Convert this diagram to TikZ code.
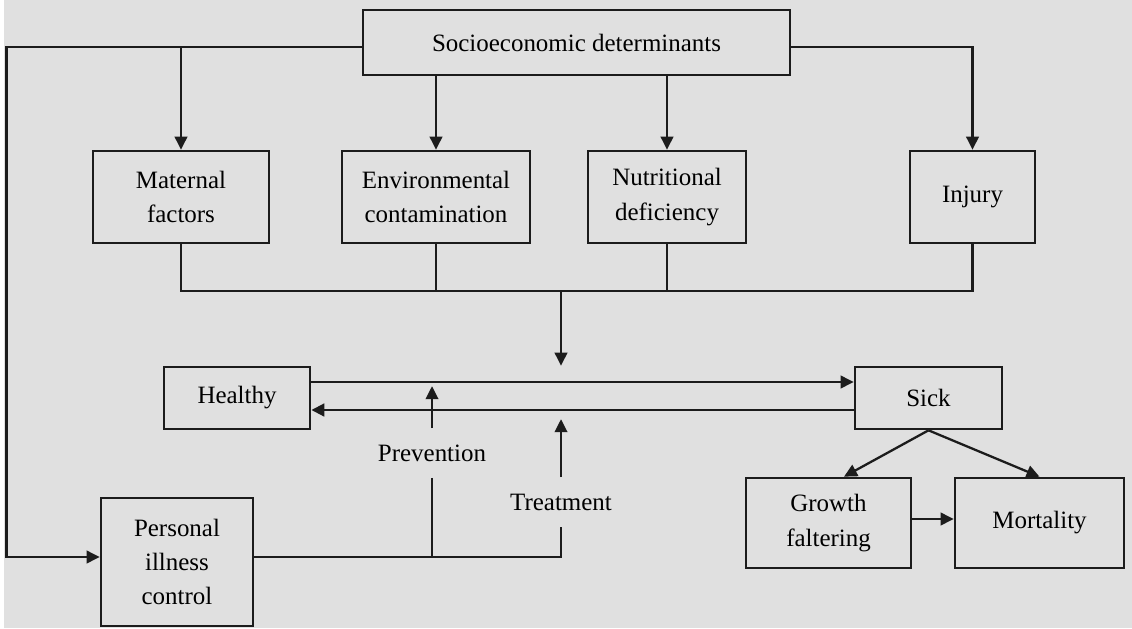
\documentclass[tikz,border=0pt]{standalone}
\usepackage{fontspec}
\setmainfont{Liberation Serif}
\usetikzlibrary{shapes.geometric, arrows.meta}
\definecolor{bggray}{HTML}{E0E0E0}
\definecolor{edgegray}{HTML}{1C1C1C}
\tikzstyle{factor} = [rectangle, minimum width=3cm, minimum height=1.84cm, text centered, align=center, draw=edgegray, line width=1.5pt]
\tikzstyle{state} = [rectangle, minimum width=2.9cm, minimum height=1.24cm, text centered, align=center, draw=edgegray, line width=1.5pt]
\tikzstyle{actionlabel} = [inner sep=0pt, minimum height=0.98cm, text centered]
\tikzstyle{line} = [line width=1.3pt, draw=edgegray]
\tikzstyle{arrow} = [line width=1.3pt, draw=edgegray, -{Triangle[length=0.26cm,width=0.25cm]}]

\begin{document}
\begin{tikzpicture}[node distance=3.09cm, font=\fontsize{14.2}{19.5}\selectfont]

        % Background and page size
        \useasboundingbox (0,0) rectangle (22.64,-12.56);
        \fill [bggray] (0.08,0) rectangle (22.64,-12.56);

        % Nodes for determinants and factors
        \node (socio) [factor, minimum width=8.54cm, minimum height=1.3cm] at (11.53,-0.85) {Socioeconomic determinants};
        \node (maternal) [factor, minimum width=3.52cm, below of=socio, xshift=-7.91cm] {Maternal\\factors};
        \node (environment) [factor, minimum width=3.76cm, below of=socio, xshift=-2.81cm] {Environmental\\contamination};
        \node (nutrition) [factor, minimum width=3.16cm, below of=socio, xshift=1.81cm] {Nutritional\\deficiency};
        \node (injury) [factor, minimum width=2.5cm, below of=socio, xshift=7.92cm] {Injury};

        % Nodes for health states
        \node (healthy) [state, minimum width=2.92cm, below of=maternal, xshift=1.12cm, yshift=-0.93cm] {Healthy};
        \node (sick) [state, minimum width=2.94cm, right of=healthy, xshift=10.74cm] {Sick};

        % Nodes for outcomes
        \node (growth) [factor, minimum width=3.3cm, minimum height=1.8cm, below of=sick, xshift=-2cm, yshift=0.59cm] {Growth\\faltering};
        \node (mortality) [factor, minimum width=3.38cm, minimum height=1.8cm, right of=growth, xshift=1.13cm] {Mortality};

        % Node for personal control and its actions
        \node (personal) [factor, minimum width=3.04cm, minimum height=2.56cm, below of=healthy, xshift=-1.2cm, yshift=-0.19cm] {Personal\\illness\\control};
        \node (prevention) [actionlabel, right of=healthy, xshift=0.81cm, yshift=-1.1cm] {Prevention};
        \node (treatment) [actionlabel, right of=prevention, xshift=-0.51cm, yshift=-0.98cm] {Treatment};

        % Helper points
        \coordinate (leftbend) at (0.13,-0.94);
        \coordinate (merge) at (11.22,-5.82);
        \coordinate (control) at ([yshift=0.1cm]personal.east);

        % Arrows from determinants to factors
        \draw [arrow] ([yshift=-0.09cm]socio.west) -- (leftbend) |- ([yshift=0.1cm]personal.west);
        \draw [arrow] (leftbend -| maternal.north) -- (maternal.north);
        \draw [arrow] (socio.south -| environment.north) -- (environment.north);
        \draw [arrow] (socio.south -| nutrition.north) -- (nutrition.north);
        \draw [arrow] ([yshift=-0.09cm]socio.east) -| (injury.north);

        % Lines joining the factors
        \draw [line] (maternal.south) |- (injury.south |- merge) -- (injury.south);
        \draw [line] (environment.south) -- (environment.south |- merge);
        \draw [line] (nutrition.south) -- (nutrition.south |- merge);
        \draw [arrow] (merge) -- (merge |- healthy.north);

        % Arrows between health states
        \draw [arrow] ([yshift=0.32cm]healthy.east) -- ([yshift=0.32cm]sick.west);
        \draw [arrow, line width=1.7pt] ([yshift=-0.24cm]sick.west) -- ([yshift=-0.24cm]healthy.east);

        % Arrows for prevention and treatment
        \draw [line] (control) -| (treatment.south);
        \draw [line] (prevention.south) -- (prevention.south |- control);
        \draw [arrow] (prevention.north) -- ++(0,0.84);
        \draw [arrow] (treatment.north) -- ++(0,1.16);

        % Arrows to outcomes
        \draw [arrow] (sick.south) -- ([xshift=0.31cm]growth.north);
        \draw [arrow] (sick.south) -- (mortality.north);
        \draw [arrow] ([yshift=0.08cm]growth.east) -- ([yshift=0.08cm]mortality.west);

    \end{tikzpicture}
\end{document}
